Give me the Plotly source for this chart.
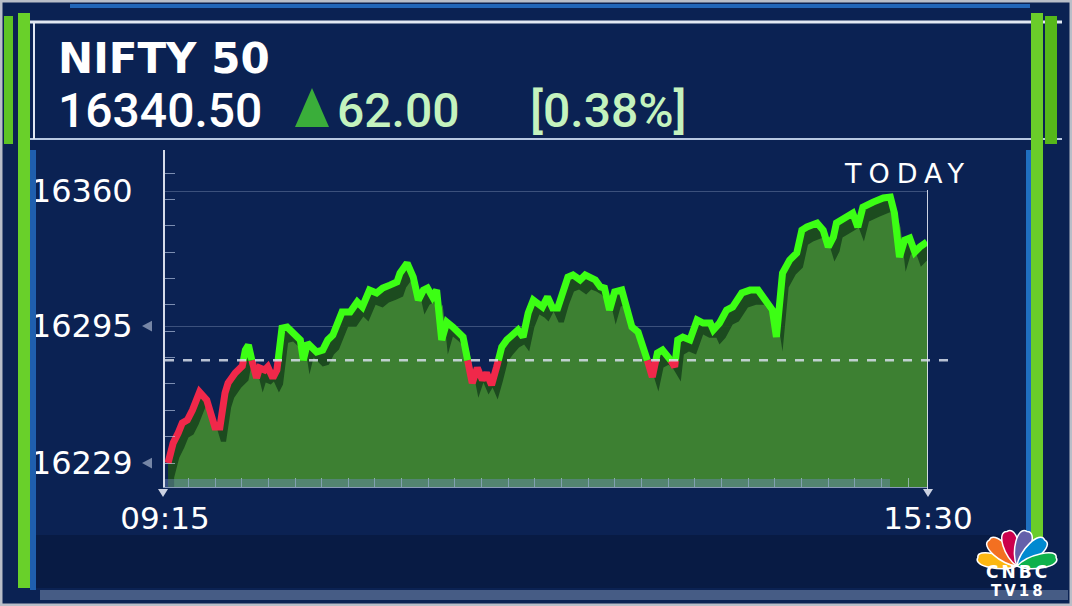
import math

import plotly.graph_objects as go

# NIFTY 50 intraday, minutes after 09:15 and index level
minutes = [
    1.5, 4, 6.5, 8.5, 11, 13.5, 17, 20.5, 24.5, 27,
    29.5, 31, 34.5, 38, 39.5, 41, 43, 45, 46.5, 49,
    50.5, 53, 55, 57.5, 60, 63, 66.5, 68, 70, 72,
    74.5, 77.5, 80, 82.5, 87, 91, 94.5, 97, 100.5, 104,
    107, 110.5, 114, 115.5, 119, 122, 124.5, 127, 129, 131.5,
    133.5, 136, 138.5, 141.5, 144, 146.5, 149, 151, 153.5, 156,
    158, 160.5, 163, 165.5, 168, 171, 173.5, 176, 178.5, 181,
    183.5, 185.5, 188, 190.5, 193, 195.5, 198, 200.5, 204, 206.5,
    209, 211.5, 214, 216, 218.5, 221, 224.5, 227, 229.5, 232.5,
    235, 237.5, 239.5, 242, 244.5, 247, 250.5, 252, 254.5, 258,
    261.5, 264.5, 268, 269.5, 272.5, 276, 279, 283.5, 287.5, 291.5,
    295, 298.5, 300.5, 302, 303.5, 307, 310.5, 313, 315.5, 320.5,
    323.5, 326, 328.5, 330, 335, 338, 340.5, 343, 348, 353,
    356.5, 358.5, 361, 363.5, 366, 368.5, 371, 374.5,
]
levels = [
    16229.0, 16238.6, 16243.5, 16248.3, 16249.7, 16254.5, 16263.2, 16259.4, 16246.3, 16246.3,
    16262.7, 16267.5, 16272.4, 16275.7, 16283.4, 16285.8, 16277.2, 16270.0, 16274.8, 16273.8,
    16275.3, 16270.0, 16273.8, 16294.0, 16294.5, 16291.6, 16288.3, 16278.6, 16286.8, 16284.9,
    16282.5, 16283.4, 16288.3, 16290.7, 16301.7, 16301.7, 16306.6, 16304.2, 16312.3, 16310.9,
    16313.3, 16314.7, 16316.2, 16320.5, 16325.3, 16318.6, 16307.5, 16312.3, 16313.3, 16309.0,
    16312.3, 16288.3, 16296.9, 16294.5, 16291.6, 16289.7, 16277.2, 16267.5, 16274.8, 16269.0,
    16272.4, 16266.6, 16275.3, 16284.9, 16288.3, 16291.6, 16293.1, 16289.7, 16301.3, 16307.5,
    16306.1, 16304.2, 16309.0, 16303.7, 16303.7, 16312.3, 16318.6, 16319.6, 16317.2, 16319.6,
    16318.6, 16317.2, 16313.8, 16313.3, 16302.7, 16311.4, 16312.3, 16304.2, 16294.5, 16292.1,
    16284.9, 16277.2, 16270.4, 16282.0, 16283.4, 16281.0, 16275.3, 16288.3, 16289.7, 16288.3,
    16297.9, 16296.4, 16296.4, 16293.1, 16296.4, 16302.7, 16304.2, 16310.9, 16312.3, 16312.3,
    16307.5, 16302.7, 16289.7, 16306.1, 16320.5, 16326.8, 16330.2, 16341.2, 16342.7, 16344.6,
    16341.2, 16333.1, 16337.9, 16344.6, 16347.5, 16349.4, 16342.7, 16352.3, 16354.7, 16356.7,
    16357.1, 16349.4, 16328.2, 16336.4, 16337.4, 16330.6, 16333.1, 16335.5,
]

last_price = 16340.50
change = 62.00
change_pct = 0.38
prev_close = last_price - change

y_ticks = [16229, 16295, 16360]
x_ticks = [0, 375]
x_labels = ["09:15", "15:30"]

BG = "#0b2253"
LINE_GREEN = "#3cff14"
LINE_RED = "#f0284a"

# page pixel layout of the plot area
W, H = 1072, 606
L, R, T, B = 165, 928, 150, 487


def px(x):
    return (x - L) / (R - L)


def py(y):
    return (B - y) / (B - T)


# split the line at the previous close so each side gets its colour
xs, ys = [minutes[0]], [levels[0]]
for i in range(1, len(levels)):
    a, b = levels[i - 1], levels[i]
    if (a - prev_close) * (b - prev_close) < 0:
        t = (prev_close - a) / (b - a)
        xs.append(minutes[i - 1] + t * (minutes[i] - minutes[i - 1]))
        ys.append(prev_close)
    xs.append(minutes[i])
    ys.append(b)
green_y = [v if v >= prev_close else None for v in ys]
red_y = [v if v <= prev_close else None for v in ys]

fig = go.Figure()
# dark extrusion under the line
fig.add_trace(go.Scatter(x=xs, y=ys, mode="lines", line=dict(width=0), fill="tozeroy",
                         fillcolor="rgba(30,78,28,0.95)", hoverinfo="skip"))
# lighter front face of the area
fig.add_trace(go.Scatter(x=[x + 3 for x in xs], y=[v - 7 for v in ys], mode="lines", line=dict(width=0),
                         fill="tozeroy", fillcolor="rgba(64,132,52,0.93)", hoverinfo="skip"))
fig.add_trace(go.Scatter(x=xs, y=red_y, mode="lines", line=dict(color=LINE_RED, width=7),
                         connectgaps=False, hoverinfo="skip"))
fig.add_trace(go.Scatter(x=xs, y=green_y, mode="lines", line=dict(color=LINE_GREEN, width=7),
                         connectgaps=False, hoverinfo="skip"))

shapes = []
# previous close dashed line
shapes.append(dict(type="line", xref="paper", yref="y", x0=0, x1=px(956), y0=prev_close, y1=prev_close,
                   line=dict(color="rgba(215,222,235,0.85)", width=2.5, dash="dash"), layer="above"))
# bottom time strip
shapes.append(dict(type="rect", xref="paper", yref="paper", x0=0, x1=px(890), y0=0, y1=py(479),
                   fillcolor="rgba(110,140,190,0.45)", line=dict(width=0), layer="above"))
# 15:30 marker line
shapes.append(dict(type="line", xref="x", yref="paper", x0=375, x1=375, y0=py(490), y1=py(190),
                   line=dict(color="rgba(225,230,242,0.9)", width=2)))
for cx in (163, 928):
    shapes.append(dict(type="path", xref="paper", yref="paper",
                       path=f"M {px(cx - 5)},{py(489)} L {px(cx + 5)},{py(489)} L {px(cx)},{py(497)} Z",
                       fillcolor="rgba(225,230,242,0.9)", line=dict(width=0)))
# small pointers beside y labels
for v in y_ticks[:2]:
    shapes.append(dict(type="path", xref="paper", yref="y",
                       path=f"M {px(142)},{v} L {px(152)},{v + 2.6} L {px(152)},{v - 2.6} Z",
                       fillcolor="rgba(130,145,175,0.9)", line=dict(width=0)))

# frame decorations
shapes += [
    dict(type="rect", xref="paper", yref="paper", x0=px(1), x1=px(1071), y0=py(605), y1=py(1),
         line=dict(color="#b9bec8", width=3), layer="below"),
    dict(type="rect", xref="paper", yref="paper", x0=px(36), x1=px(1030), y0=py(588), y1=py(535),
         fillcolor="rgba(5,18,48,0.4)", line=dict(width=0), layer="below"),
    dict(type="rect", xref="paper", yref="paper", x0=px(40), x1=px(1068), y0=py(600), y1=py(590),
         fillcolor="rgba(120,140,175,0.55)", line=dict(width=0), layer="below"),
    dict(type="line", xref="paper", yref="paper", x0=px(70), x1=px(1030), y0=py(6), y1=py(6),
         line=dict(color="rgba(40,120,210,0.8)", width=4)),
    dict(type="line", xref="paper", yref="paper", x0=px(26), x1=px(1062), y0=py(22), y1=py(22),
         line=dict(color="#e2e8f2", width=3)),
    dict(type="line", xref="paper", yref="paper", x0=px(30), x1=px(1062), y0=py(139), y1=py(139),
         line=dict(color="#b8c8e2", width=2)),
    dict(type="line", xref="paper", yref="paper", x0=px(34), x1=px(34), y0=py(139), y1=py(22),
         line=dict(color="#e2e8f2", width=2)),
    dict(type="rect", xref="paper", yref="paper", x0=px(4), x1=px(13), y0=py(144), y1=py(16),
         fillcolor="#5ec424", line=dict(width=0)),
    dict(type="rect", xref="paper", yref="paper", x0=px(18), x1=px(30), y0=py(588), y1=py(13),
         fillcolor="#69d02a", line=dict(width=0)),
    dict(type="rect", xref="paper", yref="paper", x0=px(30), x1=px(36), y0=py(590), y1=py(150),
         fillcolor="#1f5fae", line=dict(width=0)),
    dict(type="rect", xref="paper", yref="paper", x0=px(1031), x1=px(1043), y0=py(540), y1=py(13),
         fillcolor="#6acd2a", line=dict(width=0)),
    dict(type="rect", xref="paper", yref="paper", x0=px(1026), x1=px(1031), y0=py(560), y1=py(150),
         fillcolor="#1f6fc0", line=dict(width=0)),
    dict(type="rect", xref="paper", yref="paper", x0=px(1045), x1=px(1057), y0=py(144), y1=py(16),
         fillcolor="#56b81a", line=dict(width=0)),
]
# up arrow in the header
shapes.append(dict(type="path", xref="paper", yref="paper",
                   path=f"M {px(295)},{py(127)} L {px(312)},{py(88)} L {px(329)},{py(127)} Z",
                   fillcolor="#3aae3a", line=dict(width=0)))


def petal(angle, length, half):
    a = math.radians(angle)
    dx, dy = math.cos(a), math.sin(a)
    nx, ny = -dy, dx

    def p(along, side):
        return f"{along * dx + side * nx:.1f},{along * dy + side * ny:.1f}"

    return (f"M 0,0 C {p(0.3 * length, half)} {p(1.1 * length, 1.1 * half)} {p(length, 0)} "
            f"C {p(1.1 * length, -1.1 * half)} {p(0.3 * length, -half)} 0,0 Z")


feathers = [(168, 40, 9, "#fcb711"), (137, 38, 10, "#f37021"), (106, 36, 10, "#cc004c"),
            (74, 36, 10, "#6460aa"), (43, 38, 10, "#0089d0"), (12, 40, 9, "#0db14b")]
for ang, ln, hw, col in feathers:
    shapes.append(dict(type="path", xref="paper", yref="paper", xsizemode="pixel", ysizemode="pixel",
                       xanchor=px(1017), yanchor=py(566), path=petal(ang, ln, hw),
                       fillcolor=col, line=dict(color="white", width=1.5)))

annotations = [
    dict(text="<b>NIFTY 50</b>", x=px(56), y=py(59), xanchor="left", yanchor="middle",
         font=dict(family="DejaVu Sans", size=42, color="white")),
    dict(text=f"{last_price:.2f}", x=px(56), y=py(110.5), xanchor="left", yanchor="middle",
         font=dict(family="Roboto", size=48, weight=500, color="white")),
    dict(text=f"{change:.2f}", x=px(335), y=py(110.5), xanchor="left", yanchor="middle",
         font=dict(family="Roboto", size=48, weight=500, color="#c4f3be")),
    dict(text=f"[{change_pct:.2f}%]", x=px(528), y=py(110.5), xanchor="left", yanchor="middle",
         font=dict(family="Roboto", size=48, weight=500, color="#c4f3be")),
    dict(text='<span style="letter-spacing:7px">TODAY</span>', x=px(907), y=py(173),
         xanchor="center", yanchor="middle", font=dict(family="DejaVu Sans", size=27, color="white")),
    dict(text='<b><span style="letter-spacing:3px">CNBC</span></b>', x=px(1018), y=py(572),
         xanchor="center", yanchor="middle", font=dict(family="DejaVu Sans", size=17, color="white")),
    dict(text='<b><span style="letter-spacing:3px">TV18</span></b>', x=px(1018), y=py(591),
         xanchor="center", yanchor="middle", font=dict(family="DejaVu Sans", size=15, color="white")),
]
for a in annotations:
    a.update(xref="paper", yref="paper", showarrow=False)

fig.update_layout(
    width=W, height=H,
    margin=dict(l=L, r=W - R, t=T, b=H - B, pad=0),
    paper_bgcolor=BG, plot_bgcolor=BG,
    showlegend=False,
    shapes=shapes,
    annotations=annotations,
    xaxis=dict(range=[0, 375], tickmode="array", tickvals=x_ticks, ticktext=x_labels,
               ticks="", showgrid=False, zeroline=False, showline=True,
               linecolor="rgba(190,205,230,0.7)", linewidth=1,
               tickfont=dict(family="DejaVu Sans", size=31, color="white"), ticklabelstandoff=4,
               minor=dict(ticks="inside", tick0=11.5, dtick=13.1, ticklen=9,
                          tickcolor="rgba(200,215,240,0.6)", showgrid=False)),
    yaxis=dict(range=[16217.45, 16379.8], tickmode="array", tickvals=y_ticks,
               ticktext=[str(v) for v in y_ticks], ticks="", showgrid=True,
               gridcolor="rgba(190,205,235,0.28)", gridwidth=1, zeroline=False,
               showline=True, linecolor="rgba(235,240,250,0.9)", linewidth=2,
               tickfont=dict(family="DejaVu Sans", size=32, color="white"), ticklabelstandoff=24,
               minor=dict(ticks="inside", tick0=16229, dtick=12.7, ticklen=10,
                          tickcolor="rgba(200,215,240,0.6)", showgrid=False)),
)

fig.write_html("out.html", config={"displayModeBar": False},
               post_script="document.body.style.margin = '0px';")
